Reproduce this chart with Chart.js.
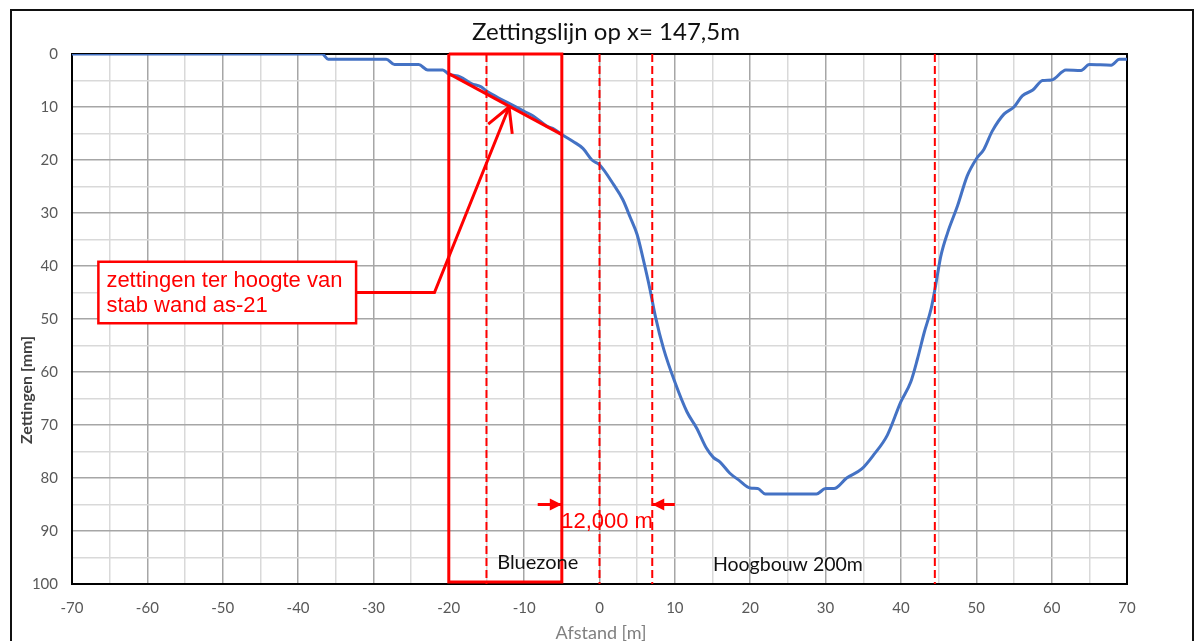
<!DOCTYPE html>
<html>
<head>
<meta charset="utf-8">
<script src="https://cdn.jsdelivr.net/npm/chart.js@4.4.1/dist/chart.umd.min.js"></script>
<style>
    html, body { margin: 0; padding: 0; background: #fff; }
    #wrap { width: 1198px; height: 641px; }
</style>
</head>
<body>
<div id="wrap"><canvas id="chart" width="1198" height="641"></canvas></div>
<script>
// Zettingslijn (afstand in m, zetting in mm)
const afstand = [-70, -36.8, -36, -28.3, -27.2, -24, -22.8, -20.8, -20, -18.5, -17, -15.7, -15, -13.5, -12, -10, -8.8, -7, -6, -5,
    -3.5, -2.2, -1, 0, 1.9, 3.1, 4.1, 5, 5.8, 6.7, 7.4, 8.5, 10, 11.6, 12.9, 14.2, 15.1, 16, 17.3, 18.5,
    20, 21, 22, 25, 28.8, 30, 31.1, 32.8, 34.8, 36.4, 38.2, 40, 41.3, 42.2, 43.1, 44, 44.6, 45.3, 46.2, 47.5,
    48.8, 50, 51, 52.1, 53.7, 55, 56.1, 57.5, 58.8, 60, 61.9, 63.9, 65, 67.9, 69, 70];
const zetting = [0, 0, 1, 1, 2, 2, 3, 3, 3.8, 4.3, 5.6, 6.2, 7, 8.2, 9.3, 10.8, 11.7, 13.6, 14.2, 15.2,
    16.5, 17.8, 20, 20.9, 24.7, 27.5, 30.9, 34.1, 38.7, 44.4, 49.4, 55.6, 61.9, 67.5, 70.6, 74.4, 76.1, 77, 79.1, 80.4,
    81.9, 82, 83, 83, 83, 82, 82, 80, 78.3, 75.6, 71.9, 65.6, 61.9, 57.5, 52.5, 48.1, 43.7, 38.1, 33.7, 28.7,
    23, 19.8, 18, 14.6, 11.3, 10, 7.9, 6.8, 5, 4.9, 3, 3.1, 2, 2.1, 1, 1];

// annotaties (in asse-eenheden)
const kaderX = [-20, -20, -5, -5, -20];
const kaderY = [0, 99.6, 99.6, 0, 0];
const stippelX = [-15, 0, 7, 44.5];
const hellingX = [-20, -5];
const hellingY = [3.7, 15.2];
const pijlX = [-32.3, -21.9, -12];
const pijlY = [45, 45, 10];
const maatLinksX = [-8.2, -5];
const maatRechtsX = [10, 7];
const maatY = 85;
const calloutX = [-66.5, -32.3];
const calloutY = [39.2, 50.8];
const calloutTekst = ['zettingen ter hoogte van', 'stab wand as-21'];

const titel = 'Zettingslijn op x= 147,5m';
const xTitel = 'Afstand [m]';
const yTitel = 'Zettingen [mm]';

const rood = '#ff0000';
const blauw = '#4472c4';

function pts(xs, ys) {
    return xs.map((x, i) => ({ x: x, y: Array.isArray(ys) ? ys[i] : ys }));
}

function redLine(data, dash) {
    return {
        data: data,
        borderColor: rood,
        borderWidth: dash ? 2 : 3,
        borderDash: dash ? [8, 4] : [],
        pointRadius: 0,
        tension: 0,
        clip: false,
        order: 0
    };
}

const datasets = [{
    data: pts(afstand, zetting),
    borderColor: blauw,
    borderWidth: 3,
    pointRadius: 0,
    cubicInterpolationMode: 'monotone',
    order: 1
}];
stippelX.forEach(x => datasets.push(redLine(pts([x, x], [0, 100]), true)));
datasets.push(redLine(pts(kaderX, kaderY), false));
datasets.push(redLine(pts(hellingX, hellingY), false));
datasets.push(redLine(pts(pijlX, pijlY), false));
datasets.push(redLine(pts(maatLinksX, maatY), false));
datasets.push(redLine(pts(maatRechtsX, maatY), false));

// Extra tekeningen: kader, titels, callout, pijlpunten
const extras = {
    id: 'extras',
    beforeDraw(chart) {
        const c = chart.ctx;
        c.save();
        c.fillStyle = '#fff';
        c.fillRect(0, 0, chart.width, chart.height);
        c.strokeStyle = '#111';
        c.lineWidth = 2;
        c.strokeRect(11, 10, 1182, 700);
        c.restore();
    },
    beforeDatasetsDraw(chart) {
        const c = chart.ctx;
        const a = chart.chartArea;
        c.save();
        c.strokeStyle = '#000';
        c.lineWidth = 2;
        c.strokeRect(a.left, a.top, a.right - a.left, a.bottom - a.top);
        c.restore();
    },
    afterDatasetsDraw(chart) {
        const c = chart.ctx;
        const xs = chart.scales.x;
        const ys = chart.scales.y;
        c.save();

        // callout
        const l = xs.getPixelForValue(calloutX[0]);
        const r = xs.getPixelForValue(calloutX[1]);
        const t = ys.getPixelForValue(calloutY[0]);
        const b = ys.getPixelForValue(calloutY[1]);
        c.fillStyle = '#fff';
        c.fillRect(l, t, r - l, b - t);
        c.strokeStyle = rood;
        c.lineWidth = 2.5;
        c.strokeRect(l, t, r - l, b - t);
        c.fillStyle = rood;
        c.font = '22px "Liberation Sans", Arial, sans-serif';
        c.textBaseline = 'middle';
        c.textAlign = 'left';
        c.fillText(calloutTekst[0], l + 8, t + 19);
        c.fillText(calloutTekst[1], l + 8, t + 44);

        // open pijlpunt aan leader
        const tx = xs.getPixelForValue(pijlX[2]);
        const ty = ys.getPixelForValue(pijlY[2]);
        const fx = xs.getPixelForValue(pijlX[1]);
        const fy = ys.getPixelForValue(pijlY[1]);
        const ang = Math.atan2(fy - ty, fx - tx);
        c.strokeStyle = rood;
        c.lineWidth = 3;
        c.beginPath();
        [-0.5, 0.5].forEach(d => {
            c.moveTo(tx, ty);
            c.lineTo(tx + 27 * Math.cos(ang + d), ty + 27 * Math.sin(ang + d));
        });
        c.stroke();

        // maatpijlen
        const my = ys.getPixelForValue(maatY);
        const tri = (px, dir) => {
            c.beginPath();
            c.moveTo(px, my);
            c.lineTo(px - dir * 12, my - 6);
            c.lineTo(px - dir * 12, my + 6);
            c.closePath();
            c.fill();
        };
        tri(xs.getPixelForValue(maatLinksX[1]), 1);
        tri(xs.getPixelForValue(maatRechtsX[1]), -1);
        c.textAlign = 'center';
        c.fillText('12,000 m', xs.getPixelForValue(1), ys.getPixelForValue(88.2));

        // zone teksten
        c.fillStyle = '#111';
        c.font = '20px Lato, sans-serif';
        c.fillText('Bluezone', xs.getPixelForValue(-8.2), ys.getPixelForValue(96));
        c.font = '19.5px Lato, sans-serif';
        c.fillText('Hoogbouw 200m', xs.getPixelForValue(25), ys.getPixelForValue(96.4));
        c.restore();
    },
    afterDraw(chart) {
        const c = chart.ctx;
        c.save();
        c.textAlign = 'center';
        c.textBaseline = 'middle';
        c.fillStyle = '#111';
        c.font = '24px Lato, sans-serif';
        c.fillText(titel, 606, 32);
        c.fillStyle = '#808080';
        c.font = '18px Lato, sans-serif';
        c.fillText(xTitel, 601, 633);
        c.translate(27, 390);
        c.rotate(-Math.PI / 2);
        c.fillStyle = '#404040';
        c.font = 'bold 16px Lato, sans-serif';
        c.fillText(yTitel, 0, 0);
        c.restore();
    }
};

const gridColor = ctx => (ctx.tick && ctx.tick.value % 10 === 0) ? '#a6a6a6' : '#d9d9d9';
const tickLabel = v => (v % 10 === 0 ? v : '');

new Chart(document.getElementById('chart'), {
    type: 'line',
    data: { datasets: datasets },
    options: {
        responsive: false,
        animation: false,
        layout: { padding: { left: 0, top: 54, right: 71, bottom: 0 } },
        plugins: {
            legend: { display: false },
            title: { display: false },
            tooltip: { enabled: false }
        },
        scales: {
            x: {
                type: 'linear',
                min: -70,
                max: 70,
                grid: { color: gridColor, lineWidth: 1.5, drawTicks: false },
                border: { display: true, color: '#000', width: 2 },
                ticks: {
                    stepSize: 5,
                    autoSkip: false,
                    maxRotation: 0,
                    padding: 15,
                    color: '#595959',
                    font: { family: 'Lato', size: 15 },
                    callback: tickLabel
                },
                afterFit: s => { s.height = 57; }
            },
            y: {
                type: 'linear',
                reverse: true,
                min: 0,
                max: 100,
                grid: { color: gridColor, lineWidth: 1.5, drawTicks: false },
                border: { display: true, color: '#000', width: 2 },
                ticks: {
                    stepSize: 5,
                    autoSkip: false,
                    padding: 14,
                    color: '#595959',
                    font: { family: 'Lato', size: 15 },
                    callback: tickLabel
                },
                afterFit: s => { s.width = 72; }
            }
        }
    },
    plugins: [extras]
});
</script>
</body>
</html>
